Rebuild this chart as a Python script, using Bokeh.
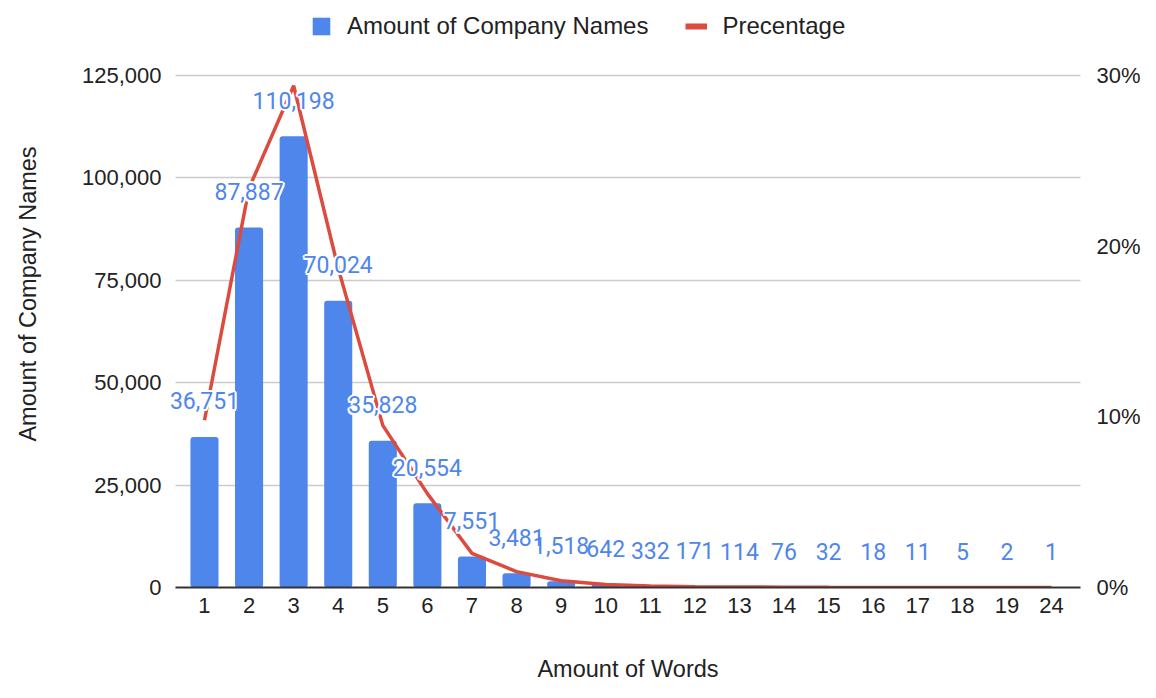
from bokeh.plotting import figure
from bokeh.models import (ColumnDataSource, FactorRange, Range1d, LinearAxis, FixedTicker,
                          NumeralTickFormatter, PrintfTickFormatter, Legend, LegendItem)
from bokeh.embed import file_html
from bokeh.resources import INLINE
from bokeh.core.properties import value

# ---- data ----
words = ["1", "2", "3", "4", "5", "6", "7", "8", "9", "10",
         "11", "12", "13", "14", "15", "16", "17", "18", "19", "24"]
company_names = [36751, 87887, 110198, 70024, 35828, 20554, 7551, 3481, 1518, 642,
                 332, 171, 114, 76, 32, 18, 11, 5, 2, 1]
percentage = [9.8, 23.4, 29.4, 18.7, 9.5, 5.5, 2.0, 0.93, 0.40, 0.17,
              0.09, 0.05, 0.03, 0.02, 0.01, 0.005, 0.003, 0.001, 0.0005, 0.0003]
label_text = ["{:,}".format(v) for v in company_names]
left_ticks = [0, 25000, 50000, 75000, 100000, 125000]
right_ticks = [0, 10, 20, 30]

BLUE = "#4f86ec"
RED = "#dc4b3e"
AXIS_FONT = "Liberation Sans"

W, H = 1150, 690
PLOT_L, PLOT_R, FRAME_B = 175, 1080, 587   # visible plot area (baseline / gridline extent)
EXTRA = 8                                   # extra frame room so data labels are not clipped
TOP_PX = 75                                 # pixel row of the top gridline (125,000 / 30%)
PAD = 0.15                                  # category padding on each side
n = len(words)
spacing = (PLOT_R - PLOT_L) / (n + 2 * PAD)
pad_total = PAD + EXTRA / spacing
scale = FRAME_B / (FRAME_B - TOP_PX)

src = ColumnDataSource(dict(x=words, y=company_names, pct=percentage, lbl=label_text))

p = figure(width=W, height=H, output_backend="svg", toolbar_location=None,
           x_range=FactorRange(factors=words, range_padding=pad_total, range_padding_units="absolute"),
           y_range=Range1d(0, left_ticks[-1] * scale),
           min_border_left=PLOT_L - EXTRA, min_border_right=W - PLOT_R - EXTRA,
           min_border_top=0, min_border_bottom=H - FRAME_B)
p.outline_line_color = None
p.extra_y_ranges = {"pct": Range1d(0, right_ticks[-1] * scale)}

bars = p.vbar(x="x", top="y", width=0.63, source=src, color=BLUE, line_color=None,
              border_radius=3)
line = p.line(x="x", y="pct", source=src, y_range_name="pct", color=RED, line_width=3.5)

# white halo behind the data labels
for dx, dy in [(-2, 0), (2, 0), (0, -2), (0, 2), (-1.5, -1.5), (1.5, 1.5), (-1.5, 1.5), (1.5, -1.5)]:
    p.text(x="x", y="y", text="lbl", source=src, x_offset=dx, y_offset=-36 + dy,
           text_align="center", text_baseline="middle",
           text_font=value("Roboto"), text_font_size="23px", text_color="white")
p.text(x="x", y="y", text="lbl", source=src, y_offset=-36,
       text_align="center", text_baseline="middle",
       text_font=value("Roboto"), text_font_size="23px", text_color=BLUE)

# left axis
p.yaxis.ticker = FixedTicker(ticks=left_ticks)
p.yaxis.formatter = NumeralTickFormatter(format="0,0")
p.yaxis.axis_label = "Amount of Company Names"
p.yaxis.axis_label_standoff = 38
# right axis
ra = LinearAxis(y_range_name="pct", ticker=FixedTicker(ticks=right_ticks),
                formatter=PrintfTickFormatter(format="%d%%"))
p.add_layout(ra, "right")
# x axis
p.xaxis.axis_label = "Amount of Words"
p.xaxis.axis_label_standoff = 40

for ax in [p.yaxis[0], ra, p.xaxis[0]]:
    ax.major_tick_line_color = None
    ax.minor_tick_line_color = None
    ax.major_label_text_font = AXIS_FONT
    ax.major_label_text_font_size = "22px"
    ax.major_label_text_color = "#222222"
    ax.axis_label_text_font = AXIS_FONT
    ax.axis_label_text_font_size = "23.5px"
    ax.axis_label_text_font_style = "normal"
    ax.axis_label_text_color = "#222222"
p.yaxis[0].major_label_standoff = 0
ra.major_label_standoff = 10 - EXTRA
p.xaxis[0].major_label_standoff = 4
p.yaxis[0].axis_line_color = None
ra.axis_line_color = None
p.xaxis[0].axis_line_color = "#333333"
p.xaxis[0].axis_line_width = 2
p.xaxis[0].bounds = (-PAD, n + PAD)

p.xgrid.grid_line_color = None
p.ygrid.grid_line_color = "#cccccc"
p.ygrid.grid_line_width = 1.5
p.ygrid.ticker = FixedTicker(ticks=left_ticks[1:])
p.ygrid.cross_bounds = (-PAD, n + PAD)

# legend (the line entry uses a thicker stand-in swatch, as in the original)
legend_line = p.line(x=words[:1], y=[-10.0], y_range_name="pct", color=RED, line_width=6)
legend = Legend(items=[LegendItem(label="Amount of Company Names", renderers=[bars]),
                       LegendItem(label="Precentage", renderers=[legend_line])],
                orientation="horizontal", location=(135 + EXTRA, FRAME_B - 40),
                glyph_width=22, glyph_height=22, label_standoff=15, spacing=37,
                padding=0, margin=0, border_line_color=None, background_fill_alpha=0,
                label_text_font=AXIS_FONT, label_text_font_size="24px",
                label_text_color="#222222")
p.add_layout(legend, "center")

open("out.html", "w").write(file_html(p, INLINE))
